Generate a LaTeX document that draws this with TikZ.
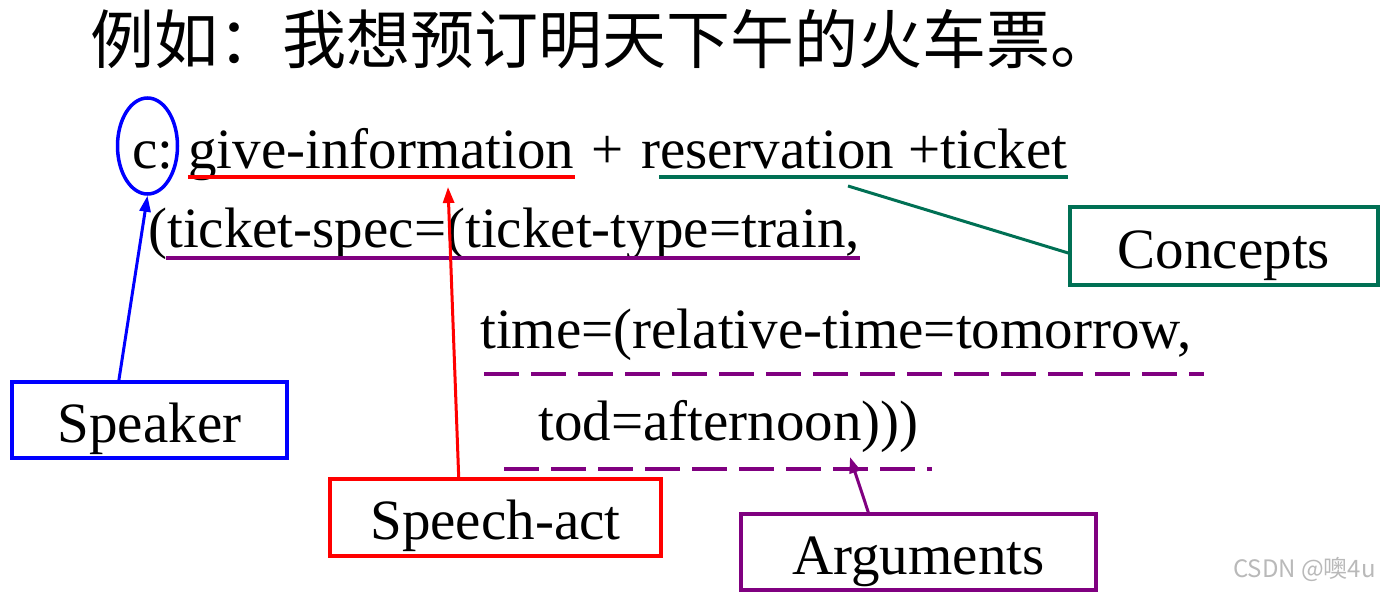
\documentclass[tikz,border=0pt]{standalone}
\usepackage{fontspec}
\setmainfont{Liberation Serif}
\newfontfamily\cjk{Noto Sans CJK SC}
\usetikzlibrary{positioning,arrows.meta,shapes.geometric,calc}
\definecolor{cptgreen}{RGB}{0,112,84}
\definecolor{argpurple}{RGB}{128,0,128}

\begin{document}
\begin{tikzpicture}[
  x=1pt, y=-1pt,
  >={Triangle[length=16pt,width=11pt]},
  txt/.style={inner sep=0pt, anchor=base west, font=\fontsize{57}{60}\selectfont},
  tag/.style={draw, line width=3.5pt, inner sep=0pt, text height=56pt, text depth=12pt,
              font=\fontsize{57}{60}\selectfont},
  uline/.style={line width=4pt},
  dline/.style={uline, argpurple, dash pattern=on 35pt off 12pt},
  pointer/.style={->, line width=3pt},
]
\useasboundingbox (0,0) rectangle (1382,592);

% ===== example sentence =====
\node[txt, font=\cjk\fontsize{64}{70}\selectfont] (title) at (90,63) {例如：我想预订明天下午的火车票。};

% ===== semantic frame =====
\node[txt] (who)  at (132,168) {c:};
\node[txt] (act)  at (188,168) {give-information};
\node[txt] (plus) at (591,168) {+};
\node[txt] (cpt)  at (641,168) {reservation +ticket};
\node[txt] (spec) at (148,247) {(ticket-spec=(ticket-type=train,};
\node[txt] (time) at (480,348) {time=(relative-time=tomorrow,};
\node[txt] (tod)  at (538,440) {tod=afternoon)))};

% underlines
\draw[uline, red] ([yshift=-9pt]act.base west) -- ([yshift=-9pt]act.base east);
\draw[uline, cptgreen] ([xshift=18pt,yshift=-9pt]cpt.base west) -- ([yshift=-9pt]cpt.base east);
\draw[uline, argpurple] ([xshift=18pt,yshift=-11pt]spec.base west) -- ([yshift=-11pt]spec.base east);
\draw[dline] ([xshift=4pt,yshift=-26pt]time.base west) -- ([xshift=12pt,yshift=-26pt]time.base east);
\draw[dline] ([xshift=-34pt,yshift=-29pt]tod.base west) -- ([xshift=13pt,yshift=-29pt]tod.base east);

% speaker mark
\node[ellipse, draw=blue, line width=3.5pt, minimum width=60pt, minimum height=96pt, inner sep=0pt] (ring) at (147.5,146) {};

% ===== label boxes =====
\node[tag, draw=blue, minimum width=275pt, minimum height=76pt] (speaker) at (149.5,420) {Speaker};
\node[tag, draw=red, minimum width=331pt, minimum height=77pt] (speech) at (495.5,517.5) {Speech-act};
\node[tag, draw=argpurple, minimum width=355pt, minimum height=76pt] (args) at (918.5,552) {Arguments};
\node[tag, draw=cptgreen, minimum width=308pt, minimum height=78pt] (concepts) at (1224,246) {Concepts};

% ===== pointers =====
\coordinate (actTip) at (448,187);
\coordinate (argTip) at (850,457);
\coordinate (cptFoot) at (848,186);
\draw[pointer, blue] ($(speaker.north west)!0.39!(speaker.north east)$) -- (ring.south);
\draw[pointer, red] ($(speech.north west)!0.39!(speech.north east)$) -- (actTip);
\draw[pointer, argpurple] ($(args.north west)!0.36!(args.north east)$) -- (argTip);
\draw[line width=3pt, cptgreen] ([yshift=-7pt]concepts.west) -- (cptFoot);

% watermark
\node[inner sep=0pt, anchor=base east, font=\cjk\fontsize{24}{26}\selectfont, text=gray!55] (mark) at (1376,577) {CSDN @噢4u};
\end{tikzpicture}
\end{document}
